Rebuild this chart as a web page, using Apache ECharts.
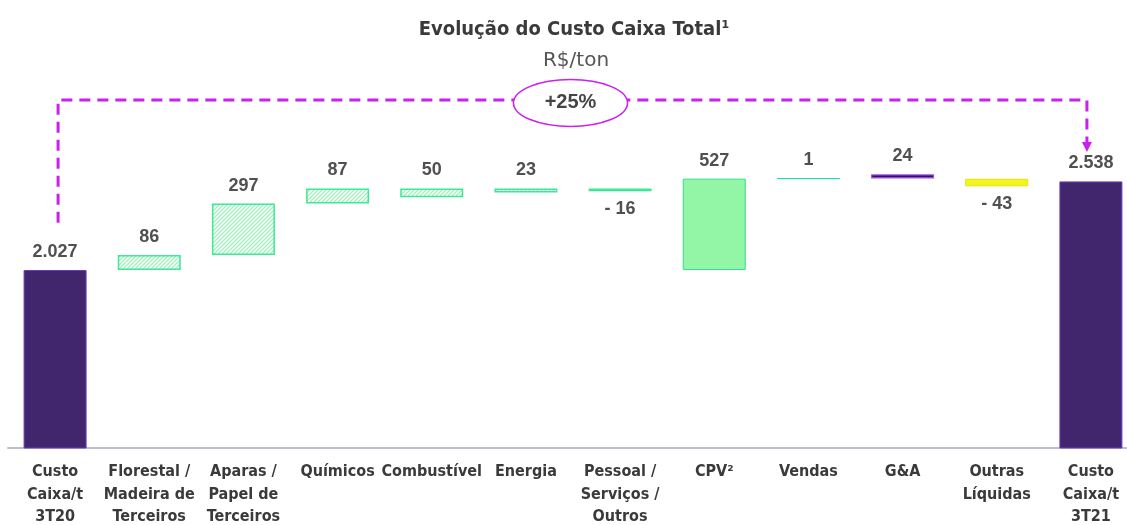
<!DOCTYPE html>
<html>
<head>
<meta charset="utf-8">
<script src="https://cdn.jsdelivr.net/npm/echarts@6/dist/echarts.min.js"></script>
<style>
html,body{margin:0;padding:0;background:#fff;}
#chart{width:1127px;height:525px;}
</style>
</head>
<body>
<div id="chart"></div>
<script>
// ---- data ----
const categories = ['Custo\nCaixa/t\n3T20', 'Florestal /\nMadeira de\nTerceiros', 'Aparas /\nPapel de\nTerceiros', 'Químicos', 'Combustível', 'Energia', 'Pessoal /\nServiços /\nOutros', 'CPV²', 'Vendas', 'G&A', 'Outras\nLíquidas', 'Custo\nCaixa/t\n3T21'];
const deltas = [2027, 86, 297, 87, 50, 23, -16, 527, 1, 24, -43, 2538];
const barLow = [0, 2027, 2113, 2410, 2447, 2474, 2481, 2027, 2554, 2555, 2510, 0];
const barHigh = [2027, 2113, 2410, 2497, 2497, 2497, 2497, 2554, 2555, 2579, 2553, 2538];
const changeLabel = '+25%';

// ---- styles ----
const condensed = "'DejaVu Sans Condensed','Liberation Sans Narrow',sans-serif";
const hatch = document.createElement('canvas');
hatch.width = 4; hatch.height = 4;
(function(){
  const c = hatch.getContext('2d');
  c.fillStyle = '#ffffff'; c.fillRect(0,0,4,4);
  c.strokeStyle = '#a4eebf'; c.lineWidth = 1.3;
  c.beginPath();
  c.moveTo(-1,5); c.lineTo(5,-1);
  c.moveTo(-1,1); c.lineTo(1,-1);
  c.moveTo(3,5); c.lineTo(5,3);
  c.stroke();
})();
const endStyle = {color:'#41266e', borderColor:'#6a3cc0', borderWidth:1};
const hatchStyle = {color:{image:hatch, repeat:'repeat'}, borderColor:'#3de897', borderWidth:1.5};
const styles = [
  endStyle, hatchStyle, hatchStyle, hatchStyle, hatchStyle, hatchStyle, hatchStyle,
  {color:'#93f5a6', borderColor:'#33e08a', borderWidth:1},
  {color:'#22d8b8', borderColor:'#22d8b8', borderWidth:1},
  {color:'#3a0a6a', borderColor:'#9a55e0', borderWidth:1.2},
  {color:'#f5f51e', borderColor:'#e4e400', borderWidth:1},
  endStyle
];

function fmt(v){
  const a = Math.abs(v);
  let s = a >= 1000 ? Math.floor(a/1000) + '.' + String(a%1000).padStart(3,'0') : String(a);
  return v < 0 ? '- ' + s : s;
}

const baseData = barLow.map(v => v);
const visData = barHigh.map((h,i) => ({
  value: h - barLow[i],
  itemStyle: styles[i],
  label: {position: deltas[i] < 0 ? 'bottom' : 'top', formatter: fmt(deltas[i])}
}));

const chart = echarts.init(document.getElementById('chart'), null, {renderer:'canvas'});
const option = {
  animation: false,
  backgroundColor: '#ffffff',
  title: [
    {text:'Evolução do Custo Caixa Total¹', left:569, textAlign:'center', top:15,
     textStyle:{fontFamily:condensed, fontWeight:'bold', fontSize:20, color:'#3a3a3a'}},
    {text:'R$/ton', left:571, textAlign:'center', top:46,
     textStyle:{fontFamily:"'DejaVu Sans',sans-serif", fontWeight:'normal', fontSize:20, color:'#555555'}}
  ],
  grid: {left:8, right:-11, top:84, bottom:77, containLabel:false, outerBoundsMode:'none'},
  xAxis: {
    type:'category', data:categories,
    axisLine:{lineStyle:{color:'#c3bccd', width:2}},
    axisTick:{show:false},
    axisLabel:{interval:0, margin:13, fontFamily:condensed, fontWeight:'bold', fontSize:16, lineHeight:22.5, color:'#3a3a3a'}
  },
  yAxis: {type:'value', min:1000, max:3100, show:false, splitLine:{show:false}},
  series: [
    {type:'bar', stack:'w', data:baseData, barWidth:63, itemStyle:{color:'transparent'}, silent:true},
    {type:'bar', stack:'w', data:visData, barWidth:63,
     label:{show:true, distance:9, fontFamily:"'Liberation Sans',Arial,sans-serif", fontWeight:'bold', fontSize:18, color:'#505050'}}
  ]
};
chart.setOption(option);

// ---- bracket (+25%) drawn through the chart's own scale ----
const bracketStartValue = 2300, bracketTopValue = 3008, arrowTipValue = 2708;
const pL = chart.convertToPixel({gridIndex:0}, [0, bracketStartValue]);
const pT = chart.convertToPixel({gridIndex:0}, [0, bracketTopValue]);
const pR = chart.convertToPixel({gridIndex:0}, [categories.length-1, arrowTipValue]);
const xL = pL[0] + 3, xR = pR[0] - 4, yTop = pT[1], yStart = pL[1], yTip = pR[1];
const mag = '#cc1ff0';
const cx = (xL + xR)/2 - 2;
chart.setOption({
  graphic: [
    {type:'polyline', z:10, shape:{points:[[xL,yStart],[xL,yTop],[xR,yTop],[xR,yTip-9]]},
     style:{stroke:mag, lineWidth:3, lineDash:[11,7], fill:null}},
    {type:'polygon', z:10, shape:{points:[[xR-5,yTip-10],[xR+5,yTip-10],[xR,yTip]]}, style:{fill:mag}},
    {type:'ellipse', z:11, shape:{cx:cx, cy:yTop+3, rx:57, ry:23.5}, style:{fill:'#ffffff', stroke:mag, lineWidth:1.5}},
    {type:'text', z:12, x:cx, y:yTop+3, style:{text:changeLabel, align:'center', verticalAlign:'middle',
     font:"bold 20px 'Liberation Sans', Arial, sans-serif", fill:'#454545'}}
  ]
});
</script>
</body>
</html>
